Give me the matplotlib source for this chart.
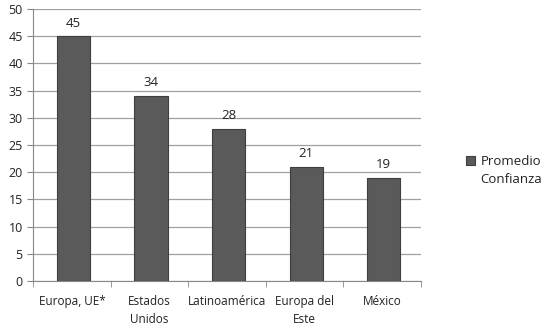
import matplotlib
matplotlib.use("Agg")
import matplotlib.pyplot as plt
import numpy as np

categories = ["Europa, UE*", "Estados\nUnidos", "Latinoamérica", "Europa del\nEste", "México"]
values = [45, 34, 28, 21, 19]
series_name = ["Promedio", "Confianza"]

plt.rcParams["font.family"] = ["Open Sans", "DejaVu Sans"]

fig = plt.figure(figsize=(5.44, 3.30), dpi=100)
ax = fig.add_axes([0.061, 0.148, 0.713, 0.825])

x = np.arange(len(categories))
bars = ax.bar(x + 0.02, values, width=0.43, color="#5a5a5a", edgecolor="#3e3e3e",
              linewidth=0.8, zorder=3)
for xi, v in zip(x, values):
    ax.text(xi + 0.02, v + 1.2, str(v), ha="center", va="bottom", fontsize=9.5, color="#222222")

ax.set_xlim(-0.5, len(categories) - 0.5)
ax.set_ylim(0, 50)
ax.set_yticks(range(0, 51, 5))
ax.yaxis.grid(True, color="#a0a0a0", linewidth=0.9, zorder=0)
ax.set_axisbelow(True)

ax.set_xticks(x)
ax.set_xticklabels(categories, fontsize=8.5, color="#222222", linespacing=1.5)
ax.tick_params(axis="x", length=0, pad=10)
ax.set_xticks(np.arange(-0.5, len(categories)), minor=True)
ax.tick_params(axis="x", which="minor", length=4, color="#888888")
ax.tick_params(axis="y", length=4, color="#888888", labelsize=9, labelcolor="#222222")

for s in ["top", "right"]:
    ax.spines[s].set_visible(False)
for s in ["left", "bottom"]:
    ax.spines[s].set_color("#888888")

# legend: marker next to first line, second line below
leg = fig.legend(handles=[bars], labels=[series_name[0]], loc="upper left",
                 bbox_to_anchor=(0.835, 0.566), frameon=False, fontsize=9.5,
                 handlelength=0.7, handleheight=0.7, handletextpad=0.4,
                 labelcolor="#222222")
fig.canvas.draw()
bb = leg.get_texts()[0].get_window_extent().transformed(fig.transFigure.inverted())
fig.text(bb.x0, bb.y0 - 0.055, series_name[1], fontsize=9.5, color="#222222",
         ha="left", va="bottom")

fig.savefig("out.png", dpi=100)
